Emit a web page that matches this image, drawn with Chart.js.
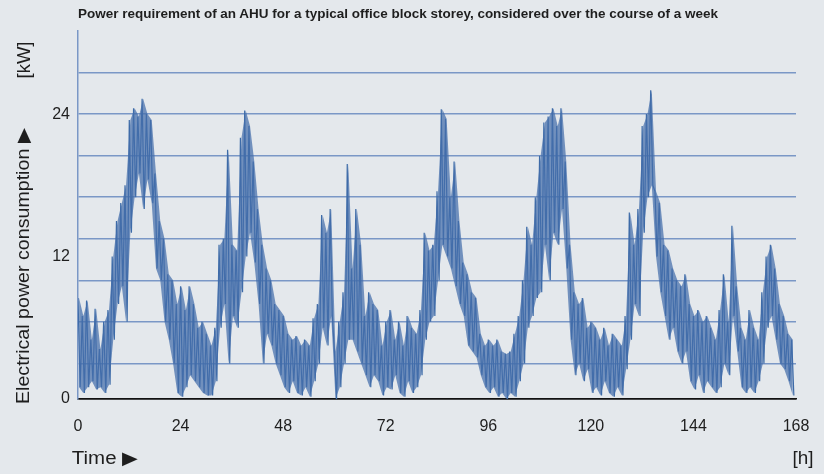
<!DOCTYPE html>
<html lang="en">
<head>
    <meta charset="UTF-8">
    <title>AHU power requirement over a week</title>
    <style>
        body {
            margin: 0;
            padding: 0;
            background-color: #e4e8ec;
            font-family: "Liberation Sans", Arial, sans-serif;
            color: #1e1e1e;
        }

        #wrap {
            position: relative;
            width: 824px;
            height: 474px;
        }

        #chartContainer {
            position: absolute;
            left: 0;
            top: 0;
        }

        .lbl {
            position: absolute;
            white-space: nowrap;
            line-height: 1;
        }

        #title {
            font-size: 13px;
            font-weight: bold;
            transform-origin: 0 50%;
        }
    </style>
</head>
<body>
    <div id="wrap">
        <canvas id="chartContainer" width="824" height="474"></canvas>
        <div class="lbl" id="title">Power requirement of an AHU for a typical office block storey, considered over the course of a week</div>
        <div class="lbl" id="yTitle" style="font-size: 18px;">Electrical power consumption ▶</div>
        <div class="lbl" id="yUnit" style="font-size: 18px;">[kW]</div>
        <div class="lbl" id="xTitle" style="font-size: 18px;">Time ▶</div>
        <div class="lbl" id="xUnit" style="font-size: 18px;">[h]</div>
    </div>

    <script src="https://cdn.jsdelivr.net/npm/chart.js"></script>
    <script>
        // hourly upper / lower edge of the noisy consumption band, kW
        const upper = [
            8.5, 7, 8.3, 5, 7.6, 4.2, 6.5, 7.5, 12, 15, 16.5, 18, 23.5, 24.5, 23.8, 25.3, 24, 23.5, 19, 15, 13.5, 10.5, 10, 8,
            9.5, 7.5, 9.5, 8, 6, 6.5, 5.5, 4.5, 6, 13, 13.5, 21, 13, 12.5, 22, 24.3, 23, 20, 16, 13, 11, 10, 8, 7.5,
            7, 5.5, 5, 5.3, 4.5, 5, 4.5, 6.8, 8, 15.5, 14, 16, 4, 6.5, 9, 19.8, 11, 16, 13, 7, 9, 8, 7.5, 4.5,
            6.5, 7.5, 5, 6.5, 4.5, 7, 6, 5.5, 7.5, 14, 12.5, 13, 17.5, 24.4, 23.6, 17, 20, 15, 11.5, 10.5, 9, 8.5, 5.5, 4.5,
            5, 4.5, 5, 4, 3.8, 4, 5.5, 7, 10, 14.5, 13, 17, 20.5, 23.3, 23.8, 24.5, 23, 24.5, 20, 13, 9, 8, 8.5, 6,
            6.5, 6, 5, 6, 4.5, 5.5, 5, 4.5, 7, 15.7, 13, 16, 23, 24, 26, 17.5, 16.5, 13, 12.5, 11, 10, 9.5, 10.5, 8,
            7, 7.5, 6.5, 7, 6, 5, 7.5, 10.5, 6.5, 14.6, 9.5, 6, 5, 7.5, 6, 5, 9, 12, 13, 11, 8, 7, 5.5, 5
        ];
        const lower = [
            1, 0.5, 1, 1.5, 0.8, 1, 0.5, 1.2, 5, 8, 9.5, 6.5, 14, 17, 19, 16, 18.5, 16.5, 11, 10, 6.5, 5, 3, 0.5,
            0.2, 1, 2, 1.5, 1, 0.5, 0.3, 0.3, 1.5, 6, 8, 3, 7, 6, 9, 12, 14, 11.5, 8, 3, 5.5, 4.5, 3, 2,
            1, 0.5, 1.5, 0.5, 0.3, 1, 0.2, 1.5, 3, 6, 4.5, 7, 0, 1, 3, 5, 5, 4, 3, 2, 1, 2, 1.5, 0.3,
            1, 0.8, 2, 0.5, 0.2, 1.5, 0.5, 1, 2, 5, 6.5, 7, 10, 13, 12, 11, 9.5, 8, 7, 4.5, 4, 3.5, 2, 1,
            0.5, 1, 0.2, 0.5, 0, 0.5, 0.2, 1.5, 3, 6, 7, 8.5, 9, 13, 10, 14, 13, 16, 11, 5, 2, 3, 1.5, 2.5,
            0.5, 1, 0.3, 1.5, 0.5, 0.2, 1, 0.3, 2.5, 5, 8, 7, 14, 17, 18, 12, 9, 7, 5, 6, 4, 3, 4, 1.5,
            0.8, 2, 0.5, 1.5, 1, 0.5, 1, 3, 2, 7, 4, 1, 0.5, 1, 0.5, 1.5, 3, 6, 7, 5, 3, 2.5, 1.5, 0.3
        ];

        const xTicks = [0, 24, 48, 72, 96, 120, 144, 168];
        const yTickLabels = [0, 12, 24];
        const yGridLines = [3, 6.5, 10, 13.5, 17, 20.5, 24, 27.5];

        // zigzag: upper edge on the hour, lower edge half an hour later
        const points = [];
        upper.forEach((v, h) => {
            points.push({ x: h, y: v });
            points.push({ x: h + 0.5, y: lower[h] });
        });
        // envelope, both edges at the same x so the band can be filled between them
        const upperPts = upper.map((v, h) => ({ x: h + 0.25, y: v }));
        const lowerPts = lower.map((v, h) => ({ x: h + 0.25, y: v }));

        const gridBlue = '#7a97c6';
        const lineBlue = '#3d6ba8';
        const tickFont = { family: '"Liberation Sans", Arial, sans-serif', size: 16 };

        new Chart(document.getElementById('chartContainer'), {
            type: 'line',
            data: {
                datasets: [
                    {
                        data: upperPts,
                        borderWidth: 0,
                        borderColor: 'rgba(0,0,0,0)',
                        pointRadius: 0,
                        tension: 0,
                        fill: false
                    },
                    {
                        data: lowerPts,
                        borderWidth: 0,
                        borderColor: 'rgba(0,0,0,0)',
                        backgroundColor: 'rgba(68,110,170,0.72)',
                        pointRadius: 0,
                        tension: 0,
                        fill: '-1'
                    },
                    {
                        data: points,
                        borderColor: lineBlue,
                        borderWidth: 1.2,
                        pointRadius: 0,
                        tension: 0,
                        fill: false
                    }
                ]
            },
            options: {
                responsive: false,
                animation: false,
                layout: { padding: { top: 31, right: 28, left: 0, bottom: 0 } },
                plugins: {
                    legend: { display: false },
                    tooltip: { enabled: false }
                },
                scales: {
                    x: {
                        type: 'linear',
                        min: 0,
                        max: 168,
                        afterFit: scale => { scale.height = 75; },
                        afterBuildTicks: scale => { scale.ticks = xTicks.map(v => ({ value: v })); },
                        grid: { display: false },
                        border: { color: '#111', width: 1.5 },
                        ticks: {
                            color: '#1e1e1e',
                            font: tickFont,
                            padding: 10,
                            maxRotation: 0,
                            autoSkip: false
                        }
                    },
                    y: {
                        min: 0,
                        max: 31,
                        afterFit: scale => { scale.width = 78; },
                        afterBuildTicks: scale => {
                            const vals = [...new Set([...yTickLabels, ...yGridLines])].sort((a, b) => a - b);
                            scale.ticks = vals.map(v => ({ value: v }));
                        },
                        grid: {
                            drawTicks: false,
                            lineWidth: 1.5,
                            color: ctx => {
                                const v = ctx.tick ? ctx.tick.value : null;
                                if (v === 0) return '#111';
                                if (yGridLines.includes(v)) return gridBlue;
                                return 'rgba(0,0,0,0)';
                            }
                        },
                        border: { color: gridBlue, width: 1.5 },
                        ticks: {
                            color: '#1e1e1e',
                            font: tickFont,
                            padding: 8,
                            autoSkip: false,
                            callback: v => yTickLabels.includes(v) ? v : ''
                        }
                    }
                }
            }
        });

        // place the text labels; the original uses a condensed face, so squeeze to the measured widths
        function place(id, cx, cy, len, rotate) {
            const el = document.getElementById(id);
            const k = len / el.offsetWidth;
            el.style.left = cx + 'px';
            el.style.top = cy + 'px';
            el.style.transform = 'translate(-50%, -50%)' + (rotate ? ' rotate(-90deg)' : '') + ' scaleX(' + k + ')';
        }
        const title = document.getElementById('title');
        title.style.left = '78px';
        title.style.top = '7px';
        title.style.transform = 'scaleX(' + (640 / title.offsetWidth) + ')';

        place('yTitle', 23, 266, 276, true);
        place('yUnit', 24, 60, 37, true);
        place('xTitle', 105, 458, 66, false);
        place('xUnit', 803, 458, 21, false);
    </script>
</body>
</html>
